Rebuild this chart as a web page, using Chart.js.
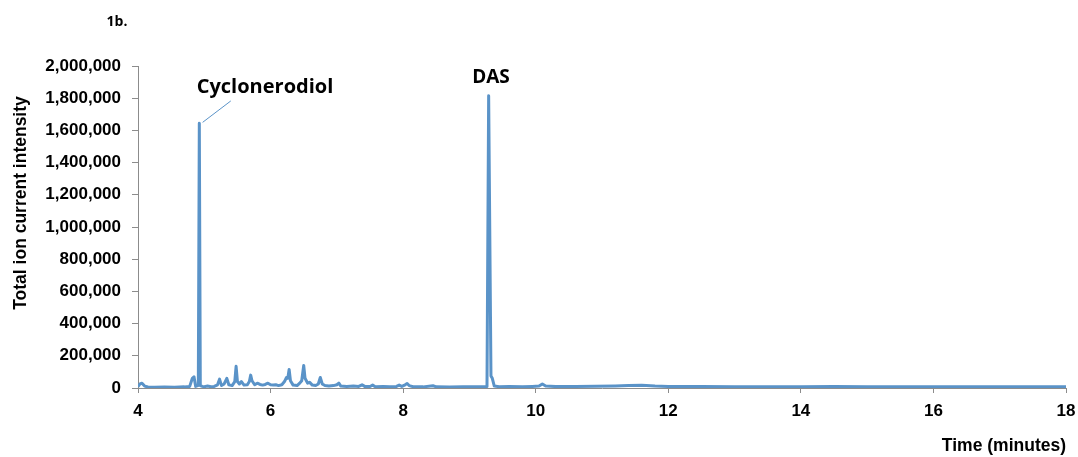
<!DOCTYPE html>
<html>
<head>
<meta charset="utf-8">
<script src="https://cdn.jsdelivr.net/npm/chart.js@4.4.1/dist/chart.umd.min.js"></script>
<style>
  html, body { margin: 0; padding: 0; background: #fff; }
  #tic { display: block; }
</style>
</head>
<body>
<canvas id="tic" width="1078" height="457"></canvas>
<script>
/* global Chart */

// retention time (minutes)
let times = [
  4.00, 4.03, 4.06, 4.10, 4.15, 4.25, 4.40, 4.55, 4.70, 4.78, 4.82, 4.845, 4.87, 4.90,
  4.91, 4.925, 4.94, 4.97, 5.00, 5.05, 5.10, 5.15, 5.20, 5.23, 5.26, 5.30, 5.34, 5.37,
  5.42, 5.46, 5.48, 5.50, 5.53, 5.56, 5.60, 5.65, 5.68, 5.70, 5.72, 5.76, 5.80, 5.84,
  5.88, 5.92, 5.96, 6.00, 6.04, 6.08, 6.12, 6.17, 6.21, 6.24, 6.26, 6.28, 6.30, 6.34,
  6.40, 6.44, 6.47, 6.50, 6.52, 6.56, 6.59, 6.63, 6.68, 6.72, 6.75, 6.78, 6.82, 6.88,
  6.95, 7.00, 7.03, 7.06, 7.15, 7.25, 7.33, 7.38, 7.42, 7.50, 7.54, 7.58, 7.70, 7.80,
  7.90, 7.94, 7.98, 8.03, 8.06, 8.09, 8.15, 8.30, 8.45, 8.50, 8.70, 8.90, 9.10, 9.20,
  9.25, 9.265, 9.29, 9.325, 9.345, 9.375, 9.45, 9.60, 9.80, 9.95, 10.05, 10.10, 10.15,
  10.30, 10.60, 10.90, 11.20, 11.40, 11.60, 11.80, 12.00, 12.50, 13.00, 13.50, 14.00,
  14.50, 15.00, 15.50, 16.00, 16.50, 17.00, 17.50, 18.00
];

// total ion current
let intensity = [
  8000, 25000, 30000, 12000, 6000, 5000, 6000, 5000, 7000, 10000, 60000, 70000, 10000, 15000,
  15000, 1645000, 15000, 10000, 8000, 12000, 8000, 10000, 20000, 55000, 15000, 25000, 60000, 20000,
  15000, 40000, 135000, 40000, 25000, 40000, 18000, 20000, 40000, 80000, 45000, 20000, 30000, 22000,
  18000, 22000, 30000, 20000, 18000, 20000, 15000, 20000, 40000, 65000, 60000, 115000, 45000, 18000,
  15000, 30000, 45000, 140000, 60000, 30000, 35000, 18000, 15000, 25000, 65000, 25000, 15000, 12000,
  15000, 20000, 30000, 12000, 10000, 12000, 10000, 20000, 10000, 9000, 18000, 8000, 9000, 8000,
  10000, 18000, 10000, 20000, 28000, 15000, 8000, 7000, 14000, 7000, 6000, 7000, 8000, 8000,
  10000, 20000, 1815000, 75000, 60000, 12000, 8000, 9000, 8000, 10000, 12000, 25000, 12000,
  9000, 10000, 11000, 13000, 16000, 17000, 12000, 10000, 9000, 8000, 8000, 8000,
  9000, 8000, 8000, 8000, 8000, 8000, 8000, 8000
];

let yTicks = [0, 200000, 400000, 600000, 800000, 1000000, 1200000, 1400000, 1600000, 1800000, 2000000];
let xTicks = [4, 6, 8, 10, 12, 14, 16, 18];

let lineBlue = "#5a93c8";
let axisGrey = "#8c8c8c";
let arial = "'Liberation Sans', Arial, sans-serif";
let tickFont = { family: arial, size: 17, weight: "bold" };

const labelsPlugin = {
  id: "peakLabels",
  afterDraw(chart) {
    const c = chart.ctx;
    const x = chart.scales.x;
    const y = chart.scales.y;
    c.save();
    c.fillStyle = "#000";
    c.textAlign = "center";
    c.textBaseline = "middle";

    c.font = "bold 14px 'Open Sans', sans-serif";
    c.fillText("1b.", 117, 22);

    c.font = "bold 20px 'Open Sans', sans-serif";
    c.fillText("Cyclonerodiol", 265, 87);
    c.font = "bold 19px 'Open Sans', sans-serif";
    c.fillText("DAS", 491, 78);

    // y axis title sits a bit above the middle, as in the original
    c.save();
    c.translate(21, 203);
    c.rotate(-Math.PI / 2);
    c.font = "bold 17.5px " + arial;
    c.fillText("Total ion current intensity", 0, 0);
    c.restore();

    // leader from label to the cyclonerodiol peak
    c.strokeStyle = lineBlue;
    c.lineWidth = 1;
    c.beginPath();
    c.moveTo(x.getPixelForValue(5.40), y.getPixelForValue(1783000));
    c.lineTo(x.getPixelForValue(4.975), y.getPixelForValue(1650000));
    c.stroke();
    c.restore();
  }
};

let ctx = document.getElementById("tic").getContext("2d");
let ticChart = new Chart(ctx, {
  type: "line",
  data: {
    datasets: [
      {
        label: "TIC",
        data: times.map((t, i) => ({ x: t, y: intensity[i] })),
        borderColor: lineBlue,
        borderWidth: 3,
        borderJoinStyle: "round",
        pointRadius: 0,
        tension: 0,
        fill: false,
      },
    ],
  },
  options: {
    responsive: false,
    devicePixelRatio: 1,
    animation: false,
    layout: { padding: { top: 66, right: 12, bottom: 0, left: 0 } },
    plugins: {
      legend: { display: false },
      tooltip: { enabled: false },
    },
    scales: {
      x: {
        type: "linear",
        min: 4,
        max: 18,
        afterBuildTicks: (s) => { s.ticks = xTicks.map((v) => ({ value: v })); },
        afterFit: (s) => {
          s.height = 69;
          s.paddingLeft = 0;
          s.paddingRight = 0;
        },
        grid: { drawOnChartArea: false, drawTicks: true, tickLength: 5, color: axisGrey },
        border: { color: axisGrey, width: 1 },
        ticks: { color: "#000", font: tickFont, padding: 8, maxRotation: 0 },
        title: {
          display: true,
          text: "Time (minutes)",
          align: "end",
          color: "#000",
          font: { family: arial, size: 17.5, weight: "bold" },
          padding: { top: 0, bottom: 0 },
        },
      },
      y: {
        min: 0,
        max: 2000000,
        afterBuildTicks: (s) => { s.ticks = yTicks.map((v) => ({ value: v })); },
        afterFit: (s) => { s.width = 138; },
        grid: { drawOnChartArea: false, drawTicks: true, tickLength: 6, color: axisGrey },
        border: { color: axisGrey, width: 1 },
        ticks: {
          color: "#000",
          font: tickFont,
          padding: 11,
          callback: (v) => v.toLocaleString("en-US"),
        },
      },
    },
  },
  plugins: [labelsPlugin],
});
</script>
</body>
</html>
